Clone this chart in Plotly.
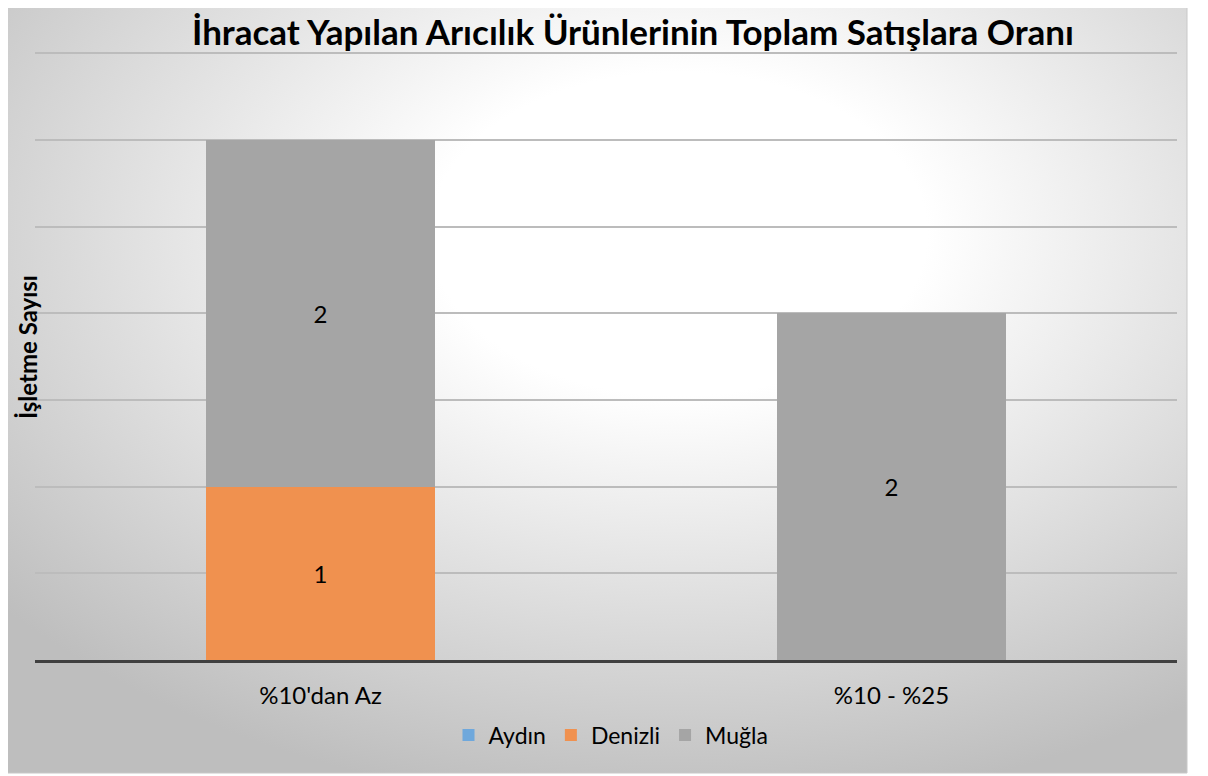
import base64
import plotly.graph_objects as go

categories = ["%10'dan Az", "%10 - %25"]
aydin = [0, 0]
denizli = [1, 0]
mugla = [2, 2]
series_names = ["Aydın", "Denizli", "Muğla"]
colors = ["#6FA8DC", "#F0914F", "#A5A5A5"]

O = 8  # page body margin offset
W, H = 1200, 768
L, R, T, B = 35 - O, 1208 - 1177, 50 - O, 776 - 660
pw, ph = W - L - R, H - T - B


def px_x(p):
    return (p - O - L) / pw


def px_y(p):
    return (H - B - (p - O)) / ph


GW, GH = 1182, 770
svg = f'''<svg xmlns="http://www.w3.org/2000/svg" width="{GW}" height="{GH}" viewBox="0 0 {GW} {GH}" preserveAspectRatio="none">
<defs><radialGradient id="g" cx="0.57" cy="0.3" r="0.75" gradientUnits="objectBoundingBox">
<stop offset="0" stop-color="#FFFFFF"/><stop offset="0.28" stop-color="#FFFFFF"/><stop offset="1" stop-color="#BEBEBE"/>
</radialGradient></defs>
<rect x="0" y="0" width="{GW}" height="{GH}" fill="url(#g)"/></svg>'''
src = "data:image/svg+xml;base64," + base64.b64encode(svg.encode()).decode()

fig = go.Figure()
for name, vals, col in zip(series_names, [aydin, denizli, mugla], colors):
    fig.add_trace(go.Bar(
        x=categories, y=vals, name=name,
        marker=dict(color=col, line=dict(width=0)),
        text=[str(v) if v else "" for v in vals],
        textposition="inside", insidetextanchor="middle",
        textfont=dict(size=24, color="black", family="Lato"),
        hoverinfo="skip",
    ))

fig.update_layout(
    width=W, height=H,
    margin=dict(l=L, r=R, t=T, b=B),
    barmode="stack", bargap=0.6,
    paper_bgcolor="white", plot_bgcolor="rgba(0,0,0,0)",
    font=dict(family="Lato", size=23, color="#000000"),
    title=dict(text="<b>İhracat Yapılan Arıcılık Ürünlerinin Toplam Satışlara Oranı</b>",
               x=(633 - O) / W, xanchor="center", y=1 - (33 - O) / H, yanchor="middle",
               font=dict(size=35, family="Lato", color="black")),
    showlegend=True,
    legend=dict(orientation="h", x=px_x(611), xanchor="center", y=px_y(735), yanchor="middle",
                font=dict(size=23), bgcolor="rgba(0,0,0,0)", traceorder="normal"),
    xaxis=dict(showline=True, linecolor="#404040", linewidth=3, showgrid=False,
               ticks="outside", ticklen=12, tickcolor="rgba(0,0,0,0)",
               tickfont=dict(size=24)),
    yaxis=dict(range=[0, 3.52], tick0=0, dtick=0.5, showticklabels=False, showgrid=True,
               gridcolor="#BCBCBC", gridwidth=1.5, zeroline=False, showline=False),
    images=[dict(source=src, xref="paper", yref="paper",
                 x=px_x(5), y=px_y(3), sizex=(1187 - 5) / pw, sizey=(773 - 3) / ph,
                 xanchor="left", yanchor="top", sizing="stretch", layer="below")],
    shapes=[dict(type="rect", xref="paper", yref="paper",
                 x0=px_x(5), x1=px_x(1187), y0=px_y(773), y1=px_y(3),
                 line=dict(color="#C8C8C8", width=1), layer="below")],
    annotations=[dict(text="<b>İşletme Sayısı</b>", xref="paper", yref="paper",
                      x=px_x(27), y=px_y(347), xanchor="center", yanchor="middle",
                      textangle=-90, showarrow=False, font=dict(size=24, color="black"))],
)

fig.write_html("out.html")
